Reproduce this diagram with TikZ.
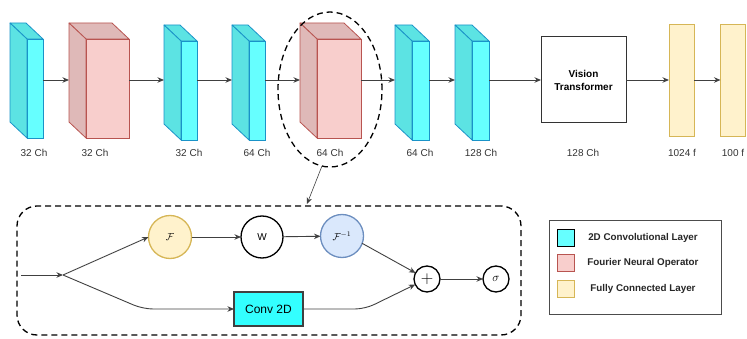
\documentclass[tikz,border=0pt]{standalone}
\usepackage{amsmath}
\usepackage{fontspec}
\setmainfont{Liberation Sans}
\usetikzlibrary{arrows.meta}
\usetikzlibrary{shapes.geometric}

\definecolor{convfront}{HTML}{66FFFF}
\definecolor{convside}{HTML}{5CE3E3}
\definecolor{convline}{HTML}{1A93C8}
\definecolor{convbox}{HTML}{33FFFF}
\definecolor{fnofront}{HTML}{F8CECC}
\definecolor{fnoside}{HTML}{DFB9B8}
\definecolor{fnoline}{HTML}{B85450}
\definecolor{fcfill}{HTML}{FFF2CC}
\definecolor{fcline}{HTML}{D6B656}
\definecolor{invfill}{HTML}{DAE8FC}
\definecolor{invline}{HTML}{6C8EBF}

\begin{document}
\begin{tikzpicture}[x=1pt, y=-1pt,
		every node/.style={inner sep=0pt, outer sep=0pt},
		flow/.style={draw=black!75, line width=0.9pt, -{Stealth[length=6.5pt, width=5.5pt]}},
		conv/.style={draw=convline, fill=convfront, line width=0.8pt, minimum height=99pt},
		conv side/.style={draw=convline, fill=convside, line width=0.8pt, line join=round},
		fno/.style={draw=fnoline, fill=fnofront, line width=0.8pt, minimum height=99pt},
		fno side/.style={draw=fnoline, fill=fnoside, line width=0.8pt, line join=round},
		fc/.style={draw=fcline, fill=fcfill, line width=0.8pt, minimum width=25pt, minimum height=112pt},
		caption/.style={text=black!80, font=\fontsize{10}{12}\selectfont},
		op/.style={circle, draw, line width=1.3pt, fill=white, font=\fontsize{10}{12}\selectfont},
		key/.style={draw, line width=0.8pt, minimum width=17pt, minimum height=17pt},
		keytext/.style={text=black!85, font=\bfseries\fontsize{9.8}{11}\selectfont}
	]
	\useasboundingbox (0,0) rectangle (747,339);
	\coordinate (axis) at (0,80);

	\foreach \n/\x/\w/\t/\s/\lx/\lt in {c1/27/16/39/conv/34/32 Ch, c2/86/43/39/fno/95/32 Ch,
			c3/181/16/41/conv/189/32 Ch, c4/249/16/41/conv/257/64 Ch, c5/317/44/39/fno/330/64 Ch,
			c6/412/17/41/conv/420/64 Ch, c7/472/17/41/conv/481/128 Ch} {
		\filldraw[\s\space side] (\x,\t) -- ++(-17,-16) -- ++(\w,0) -- ++(17,16) -- cycle;
		\filldraw[\s\space side] (\x,\t) -- ++(-17,-16) -- ++(0,99) -- ++(17,16) -- cycle;
		\node[\s, minimum width=\w pt, anchor=north west] (\n) at (\x,\t) {};
		\node[caption] (l\n) at (\lx,153) {\lt};
	};

	\node[draw=black!80, line width=1pt, minimum width=85pt, minimum height=86pt, align=center,
		font=\bfseries\fontsize{10}{13}\selectfont] (vit) at (583.5,80) {Vision\\Transformer};
	\node[fc] (fc1) at (681.5,80) {};
	\node[fc] (fc2) at (733,80) {};
	\node[caption] (lvit) at (583,153) {128 Ch};
	\node[caption] (lfc1) at (682,153) {1024 f};
	\node[caption] (lfc2) at (733,153) {100 f};

	\foreach \a/\b in {c1/c2, c2/c3, c3/c4, c4/c5, c5/c6, c6/c7} {
		\draw[flow] (\a.east |- axis) -- ([xshift=-17pt]\b.west |- axis);
	};
	\draw[flow] (c7.east |- axis) -- (vit);
	\draw[flow] (vit) -- (fc1);
	\draw[flow] (fc1) -- (fc2);

	\node[ellipse, draw, line width=1.3pt, dash pattern=on 6pt off 4pt,
		minimum width=104pt, minimum height=155pt] (focus) at (330,89.5) {};
	\node[draw, line width=1.3pt, dash pattern=on 6pt off 4pt, rounded corners=20pt,
		minimum width=504pt, minimum height=129pt] (detail) at (269,270.5) {};
	\draw[flow, line width=0.6pt] (focus.-96) -- ([xshift=38pt, yshift=2pt]detail.north);

	\coordinate (in) at (21,275);
	\coordinate (split) at (63,275);
	\coordinate (b1) at (143,309);
	\coordinate (b2) at (365,309);
	\node[op, draw=fcline, fill=fcfill, minimum size=43pt] (f) at (170,237) {$\mathcal{F}$};
	\node[op, minimum size=42pt] (w) at (262,237) {W};
	\node[op, draw=invline, fill=invfill, minimum size=43pt] (finv) at (342,236) {$\mathcal{F}^{-1}$};
	\node[op, minimum size=26pt, font=\fontsize{16}{16}\selectfont] (plus) at (427,279) {$+$};
	\node[op, minimum size=26pt, font=\fontsize{12}{12}\selectfont] (sig) at (496,279) {$\sigma$};
	\node[draw=black!75, fill=convbox, line width=1.3pt, minimum width=69pt, minimum height=34pt,
		font=\fontsize{12}{14}\selectfont] (conv) at (268.5,309) {Conv 2D};

	\draw[flow] (in) -- (split);
	\draw[flow] (split) -- (f.west);
	\draw[flow, rounded corners=10pt] (split) -- (b1) -- (conv);
	\draw[flow] (f) -- (w);
	\draw[flow] (w) -- (finv);
	\draw[flow] (finv.-20) -- (plus.152);
	\draw[flow, rounded corners=10pt] (conv) -- (b2) -- (plus.205);
	\draw[flow] (plus) -- (sig);

	\node[draw=black!70, line width=0.8pt, minimum width=172pt, minimum height=94pt] (legend) at (635,267) {};
	\foreach \k/\y/\kf/\kd/\t in {1/237.5/convfront/black/2D Convolutional Layer,
			2/262.5/fnofront/fnoline/Fourier Neural Operator, 3/288.5/fcfill/fcline/Fully Connected Layer} {
		\node[key, fill=\kf, draw=\kd] (key\k) at (565.5,\y) {};
		\node[keytext] (txt\k) at (643,\y) {\t};
	};
\end{tikzpicture}
\end{document}
